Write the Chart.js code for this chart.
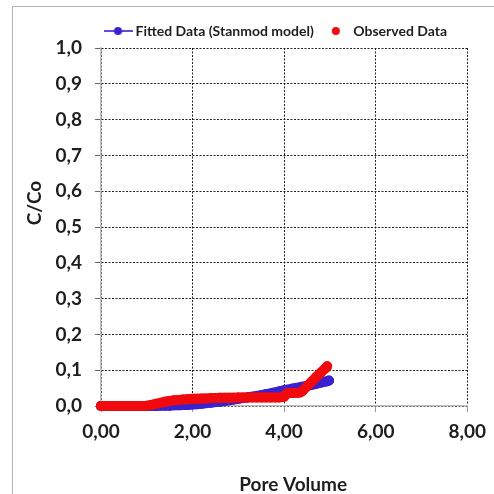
<!DOCTYPE html>
<html>
<head>
<meta charset="utf-8">
<script src="https://cdn.jsdelivr.net/npm/chart.js@4/dist/chart.umd.min.js"></script>
<style>
  html, body { margin: 0; padding: 0; background: #fff; }
  #wrap { width: 494px; height: 494px; position: relative; }
</style>
</head>
<body>
<div id="wrap"><canvas id="c" width="494" height="494"></canvas></div>
<script>
// Breakthrough curve: relative concentration vs pore volume
const fittedLabel = 'Fitted Data (Stanmod model)';
const observedLabel = 'Observed Data';
const xTitle = 'Pore Volume';
const yTitle = 'C/Co';

const fittedPV = [0.0, 0.1, 0.2, 0.3, 0.4, 0.5, 0.6, 0.7, 0.8, 0.9, 1.0, 1.1, 1.2, 1.3, 1.4, 1.5, 1.6, 1.7, 1.8, 1.9,
  2.0, 2.1, 2.2, 2.3, 2.4, 2.5, 2.6, 2.7, 2.8, 2.9, 3.0, 3.1, 3.2, 3.3, 3.4, 3.5, 3.6, 3.7, 3.8, 3.9,
  4.0, 4.1, 4.2, 4.3, 4.4, 4.5, 4.6, 4.7, 4.8, 4.9, 4.98];
const fittedC = [0.000, 0.000, 0.000, 0.000, 0.000, 0.000, 0.000, 0.000, 0.000, 0.000, 0.000, 0.000, 0.000, 0.001, 0.001, 0.001, 0.002, 0.002, 0.003, 0.003,
  0.004, 0.005, 0.006, 0.008, 0.009, 0.011, 0.012, 0.014, 0.016, 0.018, 0.020, 0.022, 0.024, 0.026, 0.028, 0.030, 0.033, 0.035, 0.038, 0.041,
  0.044, 0.046, 0.049, 0.051, 0.054, 0.056, 0.059, 0.062, 0.065, 0.068, 0.071];

const observedPV = [0.0, 0.1, 0.2, 0.3, 0.4, 0.5, 0.6, 0.7, 0.8, 0.9, 1.0, 1.1, 1.2, 1.3, 1.4, 1.5, 1.6, 1.7, 1.8, 1.9,
  2.0, 2.1, 2.2, 2.3, 2.4, 2.5, 2.6, 2.7, 2.8, 2.9, 3.0, 3.1, 3.2, 3.3, 3.4, 3.5, 3.6, 3.7, 3.8, 3.9,
  4.0, 4.05, 4.1, 4.2, 4.3, 4.35, 4.4, 4.5, 4.6, 4.7, 4.8, 4.9, 4.94];
const observedC = [0.000, 0.000, 0.000, 0.000, 0.000, 0.000, 0.000, 0.000, 0.000, 0.000, 0.001, 0.003, 0.006, 0.009, 0.012, 0.014, 0.016, 0.017, 0.018, 0.019,
  0.020, 0.020, 0.021, 0.021, 0.022, 0.022, 0.023, 0.023, 0.023, 0.023, 0.024, 0.024, 0.024, 0.024, 0.024, 0.024, 0.024, 0.024, 0.024, 0.024,
  0.026, 0.034, 0.036, 0.036, 0.037, 0.038, 0.042, 0.055, 0.068, 0.081, 0.093, 0.105, 0.111];

const xTickStep = 2;
const yTickStep = 0.1;

const BLUE = 'rgb(58, 34, 206)';
const RED = 'rgb(240, 10, 14)';
const TEXT = '#1e1e1e';
const FONT = 'Lato, "Open Sans", sans-serif';

function toPoints(xs, ys) { return xs.map((x, i) => ({ x: x, y: ys[i] })); }

// legend swatches: line with marker, and marker only
function swatch(color, withLine) {
  const cv = document.createElement('canvas');
  cv.width = withLine ? 29 : 10; cv.height = 10;
  const g = cv.getContext('2d');
  if (withLine) {
    g.strokeStyle = color; g.lineWidth = 1.6;
    g.beginPath(); g.moveTo(0, 5); g.lineTo(cv.width, 5); g.stroke();
  }
  g.fillStyle = color;
  g.beginPath(); g.arc(cv.width / 2, 5, 4, 0, Math.PI * 2); g.fill();
  return cv;
}
const fittedSwatch = swatch(BLUE, true);
const observedSwatch = swatch(RED, false);

const frameAndTitles = {
  id: 'frameAndTitles',
  afterLayout(chart) {
    // legend row sits over the plot, starting near its left edge
    const lg = chart.legend;
    const shift = chart.chartArea.left - 5;
    lg.left += shift;
    lg.right += shift;
  },
  beforeDraw(chart) {
    const ctx = chart.ctx;
    ctx.save();
    ctx.strokeStyle = '#b4b4b4'; ctx.lineWidth = 1;
    ctx.strokeRect(12.5, 6.5, 600, 600);
    ctx.restore();
  },
  afterDraw(chart) {
    const ctx = chart.ctx, a = chart.chartArea;
    ctx.save();
    ctx.fillStyle = TEXT;
    ctx.font = 'bold 19px ' + FONT;
    ctx.textAlign = 'center';
    ctx.textBaseline = 'alphabetic';
    ctx.fillText(xTitle, (a.left + a.right) / 2 + 9, a.bottom + 85);
    ctx.translate(a.left - 60, (a.top + a.bottom) / 2 - 24);
    ctx.rotate(-Math.PI / 2);
    ctx.fillText(yTitle, 0, 0);
    ctx.restore();
  }
};

const fmt = (v, d) => Number(v).toFixed(d).replace('.', ',');

new Chart(document.getElementById('c'), {
  type: 'scatter',
  data: {
    datasets: [
      {
        label: fittedLabel,
        data: toPoints(fittedPV, fittedC),
        showLine: true,
        borderColor: BLUE, backgroundColor: BLUE,
        borderWidth: 10, borderCapStyle: 'round', borderJoinStyle: 'round',
        pointRadius: 5, pointBorderWidth: 0, pointHoverRadius: 5,
        order: 1, clip: false
      },
      {
        label: observedLabel,
        data: toPoints(observedPV, observedC),
        showLine: true,
        borderColor: RED, backgroundColor: RED,
        borderWidth: 10, borderCapStyle: 'round', borderJoinStyle: 'round',
        pointRadius: 5, pointBorderWidth: 0, pointHoverRadius: 5,
        order: 0, clip: false
      }
    ]
  },
  options: {
    responsive: false,
    animation: false,
    layout: { padding: { top: 12.5, left: 0, right: 24, bottom: 0 } },
    plugins: {
      tooltip: { enabled: false },
      legend: {
        position: 'top',
        align: 'start',
        labels: {
          usePointStyle: true,
          pointStyleWidth: 21,
          padding: 11.5,
          color: TEXT,
          font: { family: FONT, size: 14, weight: 'bold' },
          sort: (a, b) => a.datasetIndex - b.datasetIndex,
          generateLabels(chart) {
            const items = Chart.defaults.plugins.legend.labels.generateLabels(chart);
            items.forEach(it => {
              it.pointStyle = it.datasetIndex === 0 ? fittedSwatch : observedSwatch;
            });
            return items;
          }
        }
      }
    },
    scales: {
      x: {
        type: 'linear', min: 0, max: 8,
        afterFit(s) { s.height = 88; },
        ticks: {
          stepSize: xTickStep, padding: 8, color: TEXT,
          font: { family: FONT, size: 19, weight: 'bold' },
          callback: v => fmt(v, 2)
        },
        grid: { color: '#222', lineWidth: 1, tickLength: 6, tickColor: '#999' },
        border: { display: true, color: '#bdbdbd', width: 1.5, dash: [2, 1.5] }
      },
      y: {
        type: 'linear', min: 0, max: 1,
        afterFit(s) { s.width = 101; },
        ticks: {
          stepSize: yTickStep, padding: 13, color: TEXT,
          font: { family: FONT, size: 19, weight: 'bold' },
          callback: v => fmt(v, 1)
        },
        grid: { color: '#222', lineWidth: 1, tickLength: 6, tickColor: '#666' },
        border: { display: true, color: '#bdbdbd', width: 1.5, dash: [2, 1.5] }
      }
    }
  },
  plugins: [frameAndTitles]
});
</script>
</body>
</html>
